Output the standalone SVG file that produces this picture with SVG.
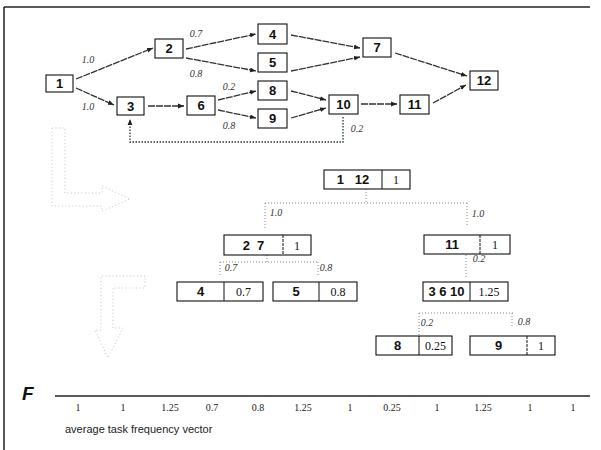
<svg xmlns="http://www.w3.org/2000/svg" width="601" height="450" viewBox="0 0 601 450">
<style>
.nb{fill:#fff;stroke:#111;stroke-width:1.1}
.nl{font-family:"Liberation Sans",Arial,sans-serif;font-weight:bold;font-size:13px;fill:#111;text-anchor:middle}
.vl{font-family:"Liberation Serif","Times New Roman",serif;font-size:12px;fill:#111;text-anchor:middle}
.el{font-family:"Liberation Serif","Times New Roman",serif;font-style:italic;font-size:10px;fill:#333;text-anchor:middle}
.e{stroke:#333;stroke-width:1.3;fill:none;stroke-dasharray:7 1;marker-end:url(#ah)}
.fb{stroke:#333;stroke-width:1.3;fill:none;stroke-dasharray:1.5 1.5;marker-end:url(#ah)}
.tc{stroke:#888;stroke-width:1;fill:none;stroke-dasharray:1 2}
.ghost{stroke:#c4c4c4;stroke-width:1;fill:none;stroke-dasharray:1 2.5}
.vv{font-family:"Liberation Serif","Times New Roman",serif;font-size:10px;fill:#222;text-anchor:middle}
</style>
<defs>
<marker id="ah" viewBox="0 0 10 10" refX="10" refY="5" markerWidth="6" markerHeight="6" orient="auto" markerUnits="userSpaceOnUse">
<path d="M0,1 L10,5 L0,9 Z" fill="#222"/>
</marker>
</defs>
<rect width="601" height="450" fill="#fff"/>
<g id="frame">
<line x1="4" y1="7" x2="590" y2="7" stroke="#222" stroke-width="1.5"/>
<line x1="4" y1="7" x2="4" y2="450" stroke="#222" stroke-width="1.5"/>
</g>
<g id="connectors">
<line class="e" x1="76" y1="79" x2="153" y2="48"/>
<line class="e" x1="76" y1="88" x2="114" y2="105"/>
<line class="e" x1="186" y1="49" x2="256" y2="34"/>
<line class="e" x1="186" y1="58" x2="256" y2="71"/>
<line class="e" x1="148" y1="106" x2="184" y2="106"/>
<line class="e" x1="218" y1="100" x2="256" y2="91"/>
<line class="e" x1="218" y1="110" x2="256" y2="118"/>
<line class="e" x1="291" y1="35" x2="360" y2="48"/>
<line class="e" x1="291" y1="71" x2="360" y2="57"/>
<line class="e" x1="291" y1="91" x2="326" y2="100"/>
<line class="e" x1="291" y1="118" x2="326" y2="108"/>
<line class="e" x1="361" y1="104" x2="397" y2="104"/>
<line class="e" x1="395" y1="53" x2="467" y2="76"/>
<line class="e" x1="433" y1="103" x2="466" y2="85"/>
<path class="fb" d="M343,117 V142 H130 V119"/>
<text class="el" x="88" y="63">1.0</text>
<text class="el" x="88" y="110">1.0</text>
<text class="el" x="196" y="37">0.7</text>
<text class="el" x="196" y="77">0.8</text>
<text class="el" x="229" y="90">0.2</text>
<text class="el" x="229" y="129">0.8</text>
<text class="el" x="357" y="132">0.2</text>
<path class="tc" d="M366,189 V203 M265,203 H467 M265,203 V228 M467,203 V226"/>
<path class="tc" d="M267,255 V262 M220,262 H318 M220,262 V275 M318,262 V275"/>
<path class="tc" d="M466,255 V278" stroke="#555" stroke-dasharray="1.5 1.5"/>
<path class="tc" d="M419,313 H513 M419,313 V335 M512,313 V328"/>
<text class="el" x="276" y="216">1.0</text>
<text class="el" x="478" y="217">1.0</text>
<text class="el" x="231" y="271">0.7</text>
<text class="el" x="326" y="271">0.8</text>
<text class="el" x="479" y="262">0.2</text>
<text class="el" x="427" y="326">0.2</text>
<text class="el" x="524" y="325">0.8</text>
</g>
<g id="n1"><rect class="nb" x="46" y="75" width="27" height="17"/><text class="nl" x="59.5" y="88">1</text></g>
<g id="n2"><rect class="nb" x="155" y="39" width="28" height="19"/><text class="nl" x="169" y="53">2</text></g>
<g id="n3"><rect class="nb" x="117" y="97" width="27" height="18"/><text class="nl" x="130.5" y="111">3</text></g>
<g id="n6"><rect class="nb" x="187" y="96" width="28" height="19"/><text class="nl" x="201" y="110">6</text></g>
<g id="n4"><rect class="nb" x="258" y="24" width="29" height="20"/><text class="nl" x="272.5" y="39">4</text></g>
<g id="n5"><rect class="nb" x="258" y="53" width="29" height="19"/><text class="nl" x="272.5" y="67">5</text></g>
<g id="n8"><rect class="nb" x="258" y="81" width="29" height="19"/><text class="nl" x="272.5" y="95">8</text></g>
<g id="n9"><rect class="nb" x="258" y="109" width="29" height="19"/><text class="nl" x="272.5" y="123">9</text></g>
<g id="n7"><rect class="nb" x="363" y="38" width="28" height="19"/><text class="nl" x="377" y="52">7</text></g>
<g id="n10"><rect class="nb" x="329" y="95" width="29" height="19"/><text class="nl" x="343.5" y="109">10</text></g>
<g id="n11"><rect class="nb" x="400" y="95" width="29" height="19"/><text class="nl" x="414.5" y="109">11</text></g>
<g id="n12"><rect class="nb" x="470" y="71" width="28" height="19"/><text class="nl" x="484" y="85">12</text></g>
<g id="t_1_12"><rect class="nb" x="324" y="170" width="86" height="19"/><line x1="382" y1="170" x2="382" y2="189" stroke="#111"/><text class="nl" x="353" y="184" xml:space="preserve">1   12</text><text class="vl" x="396" y="184">1</text></g>
<g id="t_2_7"><rect class="nb" x="224" y="235" width="87" height="20"/><line x1="283" y1="235" x2="283" y2="255" stroke="#111" stroke-dasharray="3 1"/><text class="nl" x="253.5" y="250" xml:space="preserve">2  7</text><text class="vl" x="297" y="250">1</text></g>
<g id="t_11"><rect class="nb" x="424" y="235" width="86" height="19"/><line x1="480" y1="235" x2="480" y2="254" stroke="#111" stroke-dasharray="3 1"/><text class="nl" x="452" y="249">11</text><text class="vl" x="495" y="249">1</text></g>
<g id="t_4"><rect class="nb" x="177" y="282" width="86" height="19"/><line x1="224" y1="282" x2="224" y2="301" stroke="#111"/><text class="nl" x="200.5" y="296">4</text><text class="vl" x="243.5" y="296">0.7</text></g>
<g id="t_5"><rect class="nb" x="273" y="282" width="84" height="19"/><line x1="319" y1="282" x2="319" y2="301" stroke="#111"/><text class="nl" x="296" y="296">5</text><text class="vl" x="338" y="296">0.8</text></g>
<g id="t_3_6_10"><rect class="nb" x="423" y="282" width="85" height="19"/><line x1="470" y1="282" x2="470" y2="301" stroke="#111"/><text class="nl" x="446.5" y="296">3 6 10</text><text class="vl" x="489" y="296">1.25</text></g>
<g id="t_8"><rect class="nb" x="376" y="336" width="76" height="19"/><line x1="419" y1="336" x2="419" y2="355" stroke="#111"/><text class="nl" x="397.5" y="350">8</text><text class="vl" x="435.5" y="350">0.25</text></g>
<g id="t_9"><rect class="nb" x="470" y="336" width="85" height="19"/><line x1="527" y1="336" x2="527" y2="355" stroke="#111" stroke-dasharray="3 1"/><text class="nl" x="498.5" y="350">9</text><text class="vl" x="541" y="350">1</text></g>
<g id="ghost-arrows">
<path class="ghost" d="M52,128 H65 V193 H102 V186 L130,199 L102,211 V206 H52 Z"/>
<path class="ghost" d="M145,276 H101 V330 H95 L108,358 L123,328 H113 V288 H145 Z"/>
</g>
<g id="vector">
<text x="22" y="400" font-family="Liberation Sans,Arial,sans-serif" font-weight="bold" font-style="italic" font-size="19" fill="#111">F</text>
<line x1="55" y1="396" x2="590" y2="396" stroke="#222" stroke-width="1.6"/>
<text class="vv" x="78" y="411">1</text>
<text class="vv" x="123" y="411">1</text>
<text class="vv" x="170" y="411">1.25</text>
<text class="vv" x="212" y="411">0.7</text>
<text class="vv" x="258" y="411">0.8</text>
<text class="vv" x="303" y="411">1.25</text>
<text class="vv" x="350" y="411">1</text>
<text class="vv" x="392" y="411">0.25</text>
<text class="vv" x="437" y="411">1</text>
<text class="vv" x="483" y="411">1.25</text>
<text class="vv" x="530" y="411">1</text>
<text class="vv" x="573" y="411">1</text>
<text x="65" y="433" font-family="Liberation Sans,Arial,sans-serif" font-size="11" fill="#222">average task frequency vector</text>
</g>
</svg>
